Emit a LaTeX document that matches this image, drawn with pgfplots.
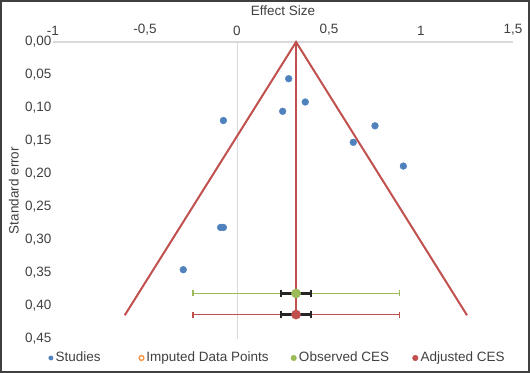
\documentclass[border=0pt]{standalone}
\usepackage{pgfplots}
\pgfplotsset{compat=1.18}
\usepackage{fontspec}
\setmainfont{Liberation Sans}
\definecolor{cblue}{HTML}{4F81BD}
\definecolor{cred}{HTML}{C0504D}
\definecolor{cgreen}{HTML}{9BBB59}
\definecolor{corange}{HTML}{F79646}
\definecolor{ctext}{HTML}{404040}
\definecolor{cgrid}{HTML}{D9D9D9}
\definecolor{cbar}{HTML}{262626}

\begin{document}
\fontsize{13.5}{16}\selectfont
\begin{tikzpicture}
\begin{axis}[
  scale only axis, width=460pt, height=297pt,
  xmin=-1, xmax=1.5, ymin=0, ymax=0.45, y dir=reverse,
  axis line style={draw=none},
  xtick={-1,-0.5,0,0.5,1,1.5},
  ytick={0,0.05,0.1,0.15,0.2,0.25,0.3,0.35,0.4,0.45},
  major tick length=0pt,
  xticklabel pos=upper,
  /pgf/number format/assume math mode=true,
  /pgf/number format/use comma,
  yticklabel style={/pgf/number format/fixed, /pgf/number format/fixed zerofill, /pgf/number format/precision=2, text=ctext, inner xsep=1.5pt},
  xticklabel style={text=ctext, yshift=2pt},
  extra x ticks={0}, extra x tick labels={},
  extra x tick style={grid=major, major grid style={cgrid, line width=0.9pt}},
  extra y ticks={0}, extra y tick labels={},
  extra y tick style={grid=major, major grid style={cgrid, line width=1.5pt}},
  xlabel={Effect Size}, ylabel={Standard error},
  label style={text=ctext},
  xlabel style={yshift=-1pt},
  clip=false,
  legend image code/.code={\draw[#1] plot coordinates {(2.5pt,0pt)};},
  legend cell align=left,
  legend columns=4,
  legend style={draw=none, fill=none, at={(axis description cs:0,0)}, anchor=west, xshift=-4.5pt, yshift=-19pt,
    text=ctext, /tikz/every odd column/.append style={column sep=0pt}, inner sep=0pt, nodes={inner xsep=2.5pt}},
]
% studies
\addplot[forget plot, only marks, mark=*, mark size=3.4pt, cblue, mark options={draw=cblue, fill=cblue}] coordinates {
(0.281,0.0556) (0.371,0.0909) (0.248,0.105) (-0.074,0.119) (0.750,0.127)
(0.632,0.152) (0.904,0.188) (-0.089,0.281) (-0.074,0.281) (-0.292,0.345)};
% observed CES
\addplot[forget plot, only marks, mark=none, error bars/.cd, x dir=both, x explicit, error mark=|,
  error bar style={cgreen, line width=1.5pt}, error mark options={cgreen, line width=1.5pt, mark size=3pt}]
  coordinates {(0.321,0.381) +- (0.561,0)};
\addplot[forget plot, only marks, mark=*, mark size=4.6pt, cgreen, mark options={draw=cgreen, fill=cgreen},
  error bars/.cd, x dir=both, x explicit, error mark=|,
  error bar style={cbar, line width=2.2pt}, error mark options={cbar, line width=2.2pt, mark size=3.6pt}]
  coordinates {(0.321,0.381) +- (0.083,0)};
% adjusted CES
\addplot[forget plot, only marks, mark=none, error bars/.cd, x dir=both, x explicit, error mark=|,
  error bar style={cred, line width=1.5pt}, error mark options={cred, line width=1.5pt, mark size=3pt}]
  coordinates {(0.321,0.413) +- (0.561,0)};
\addplot[forget plot, only marks, mark=*, mark size=4.6pt, cred, mark options={draw=cred, fill=cred},
  error bars/.cd, x dir=both, x explicit, error mark=|,
  error bar style={cbar, line width=2.2pt}, error mark options={cbar, line width=2.2pt, mark size=3.6pt}]
  coordinates {(0.321,0.413) +- (0.083,0)};
% funnel
\addplot[forget plot, cred, line width=2pt, mark=none] coordinates {(-0.61,0.414) (0.321,0) (1.25,0.414)};
\addplot[forget plot, cred, line width=2pt, mark=none] coordinates {(0.321,0) (0.321,0.414)};
% legend
\addlegendimage{mark=*, mark size=2.2pt, cblue, mark options={fill=cblue}}
\addlegendentry{\makebox[81pt][l]{Studies}}
\addlegendimage{mark=o, mark size=2.4pt, corange, mark options={line width=1.4pt}}
\addlegendentry{\makebox[142pt][l]{Imputed Data Points}}
\addlegendimage{mark=*, mark size=2.8pt, cgreen, mark options={fill=cgreen}}
\addlegendentry{\makebox[111pt][l]{Observed CES}}
\addlegendimage{mark=*, mark size=2.8pt, cred, mark options={fill=cred}}
\addlegendentry{Adjusted CES}
\end{axis}
\draw[line width=2pt, black!75] ([xshift=-52pt,yshift=-33pt]current axis.south west) rectangle ([xshift=16pt,yshift=41pt]current axis.north east);
\end{tikzpicture}
\end{document}
